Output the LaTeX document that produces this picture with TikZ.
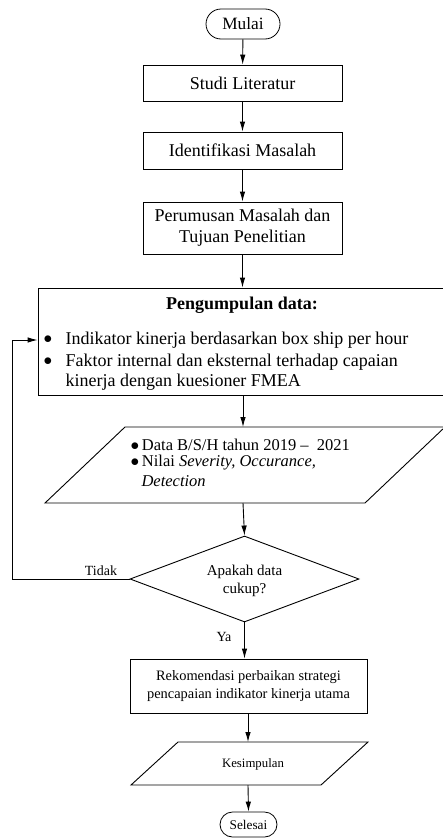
\documentclass[tikz,border=0pt]{standalone}
\usepackage{fontspec}
\setmainfont{Liberation Serif}
\usetikzlibrary{arrows.meta,shapes.geometric,shapes.misc}

\begin{document}
\begin{tikzpicture}[x=1pt,y=1pt,
    every node/.style={font=\fontsize{18}{21}\selectfont},
    proses/.style={draw, line width=0.9pt, inner sep=0pt},
    terminal/.style={draw, rounded rectangle, line width=0.8pt, inner sep=0pt},
    garis/.style={line width=0.9pt},
    panah/.style={line width=0.9pt, -{Latex[length=10pt,width=5.5pt]}},
    kecil/.style={font=\fontsize{14}{16}\selectfont}]
  \useasboundingbox (0,0) rectangle (442,-838);

  % alur utama
  \node[terminal, minimum width=74, minimum height=30, font=\fontsize{17.3}{20}\selectfont] (mulai) at (243,-24) {Mulai};
  \node[proses, minimum width=199, minimum height=36] (studi) at (242.5,-83) {Studi Literatur};
  \node[proses, minimum width=199, minimum height=37] (identifikasi) at (242.5,-150.5) {Identifikasi Masalah};
  \node[proses, minimum width=199, minimum height=52, align=center] (rumusan) at (242.5,-228)
    {Perumusan Masalah dan\\Tujuan Penelitian};

  % pengumpulan data
  \node[proses, minimum width=409, minimum height=107] (kumpul) at (242.5,-341.5) {};
  \node[font=\fontsize{18}{21}\bfseries] (judul) at (242,-305) {Pengumpulan data:};
  \foreach \y in {340,362} {
    \node (b\y) at (48,-\y) {$\bullet$};
  }
  \node[anchor=west] (baris1) at (62,-340) {Indikator kinerja berdasarkan box ship per hour};
  \node[anchor=west] (baris2) at (62,-362) {Faktor internal dan eksternal terhadap capaian};
  \node[anchor=west] (baris3) at (62,-382) {kinerja dengan kuesioner FMEA};

  % data masukan
  \draw[garis] (45,-503) -- (125,-427) -- (445,-427) -- (365,-503) -- cycle;
  \coordinate (dataAtas) at (243,-427);
  \coordinate (dataBawah) at (243,-503);
  \begin{scope}[every node/.style={font=\fontsize{16.5}{19}\selectfont, anchor=west}]
    \node (d1) at (127,-445) {$\bullet$\,Data B/S/H tahun 2019 –\ \ 2021};
    \node (d2) at (127,-463) {$\bullet$\,Nilai \textit{Severity, Occurance,}};
    \node (d3) at (138,-481) {\textit{Detection}};
  \end{scope}

  % keputusan
  \node[draw, diamond, line width=0.9pt, inner sep=0pt, minimum width=229, minimum height=86] (cek) at (244.5,-579) {};
  \node[font=\fontsize{15}{18}\selectfont, align=center] (tanya) at (244.5,-581) {Apakah data\\cukup?};
  \node[kecil] (tidak) at (101,-571) {Tidak};
  \node[kecil] (ya) at (224,-637) {Ya};

  \node[proses, minimum width=237, minimum height=54, align=center,
    font=\fontsize{14.4}{17.5}\selectfont] (rekom) at (248.5,-686)
    {Rekomendasi perbaikan strategi\\pencapaian indikator kinerja utama};

  \draw[garis] (131,-785) -- (178,-742) -- (368,-742) -- (321,-785) -- cycle;
  \coordinate (kesAtas) at (248,-742);
  \coordinate (kesBawah) at (248,-785);
  \node[font=\fontsize{12.8}{15}\selectfont] (kesimpulan) at (253,-764) {Kesimpulan};

  \node[terminal, minimum width=57, minimum height=25, font=\fontsize{13.3}{15}\selectfont] (selesai) at (248.5,-824.5) {Selesai};

  % panah
  \draw[panah] (mulai) -- (studi);
  \draw[panah] (studi) -- (identifikasi);
  \draw[panah] (identifikasi) -- (rumusan);
  \draw[panah] (rumusan.south) -- (rumusan.south |- kumpul.north);
  \draw[panah] (kumpul.south -| dataAtas) -- (dataAtas);
  \draw[panah] (dataBawah) -- (cek.north);
  \draw[panah] (cek.south) -- (cek.south |- rekom.north);
  \draw[panah] (rekom.south -| kesAtas) -- (kesAtas);
  \draw[panah] (kesBawah) -- (selesai.north);
  \coordinate (balik) at (12,-340);
  \draw[panah] (cek.west) -| (balik) -- (kumpul.west |- balik);
\end{tikzpicture}
\end{document}
